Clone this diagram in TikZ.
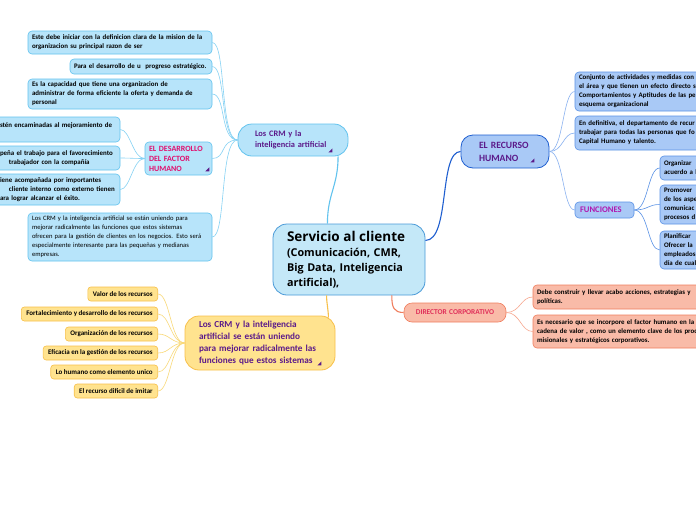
\documentclass[tikz,border=0pt]{standalone}
\usepackage{fontspec}
\setmainfont{Carlito}
\newfontfamily\ctrfont{Open Sans}
\definecolor{celesteF}{HTML}{B7E4FA}
\definecolor{celesteB}{HTML}{62C3EE}
\definecolor{celesteL}{HTML}{86D2F4}
\definecolor{centroF}{HTML}{C4E8F8}
\definecolor{centroB}{HTML}{4A9AD8}
\definecolor{amarF}{HTML}{FFE38F}
\definecolor{amarB}{HTML}{F7C04A}
\definecolor{amarL}{HTML}{F9D978}
\definecolor{azulF}{HTML}{A9C9F6}
\definecolor{azulB}{HTML}{5A92E6}
\definecolor{azulL}{HTML}{8AB2F0}
\definecolor{azulO}{HTML}{1F5FD0}
\definecolor{salmF}{HTML}{F9BBA8}
\definecolor{salmB}{HTML}{F07E5E}
\definecolor{salmL}{HTML}{F7A890}
\definecolor{morado}{HTML}{5B1A8A}
\definecolor{fucsia}{HTML}{E0106E}
\definecolor{violeta}{HTML}{B01AB0}
\definecolor{rojoD}{HTML}{E0305A}

\begin{document}
\begin{tikzpicture}[x=1pt, y=-1pt,
    every node/.style={align=left, inner xsep=4pt, inner ysep=2pt,
      font=\bfseries\fontsize{6.9}{9}\selectfont},
    hojaC/.style={draw=celesteB, fill=celesteF, rounded corners=4pt, line width=0.6pt},
    hojaA/.style={draw=amarB, fill=amarF, rounded corners=3pt, line width=0.6pt,
      anchor=east, minimum height=14pt, inner xsep=5pt, font=\bfseries\fontsize{7}{8}\selectfont},
    hojaZ/.style={draw=azulB, fill=azulF, rounded corners=4pt, line width=0.6pt},
    hojaS/.style={draw=salmB, fill=salmF, rounded corners=4pt, line width=0.6pt},
    ramaC/.style={draw=celesteL, line width=0.6pt},
    ramaA/.style={draw=amarL, line width=0.6pt},
    ramaZ/.style={draw=azulL, line width=0.6pt},
    ramaS/.style={draw=salmL, line width=0.6pt},
    marca/.style={fill=morado}]
  \fill[white] (0,0) rectangle (696,520);
  \useasboundingbox (0,0) rectangle (696,520);
  \clip (0,0) rectangle (696,520);

  % centro
  \node[draw=centroB, fill=centroF, line width=0.8pt, rounded corners=14pt,
    text width=124pt, inner xsep=14pt, minimum height=71pt,
    font=\ctrfont\bfseries\fontsize{10.8}{15}\selectfont] (ctr) at (349,259.5)
    {{\fontsize{13.5}{16}\selectfont Servicio al cliente}\\(Comunicación, CMR,\\Big Data, Inteligencia\\artificial),};

  % rama CRM e IA
  \node[draw=celesteB, fill=celesteF, line width=0.8pt, rounded corners=14pt,
    text width=76pt, inner xsep=17pt, minimum height=32pt, text=morado,
    font=\bfseries\fontsize{8.4}{11}\selectfont] (crm) at (293,140)
    {Los CRM y la\\inteligencia artificial};
  \node[hojaC, text width=176pt, minimum height=23pt] (mision) at (120,42.5)
    {\mbox{Este debe iniciar con la definicion clara de la mision de la}\\organizacion su principal razon de ser};
  \node[hojaC, text width=134pt, minimum height=15pt] (progreso) at (141,66.5)
    {Para el desarrollo de u \ progreso estratégico.};
  \node[hojaC, text width=176pt, minimum height=30pt] (capacidad) at (120,94)
    {Es la capacidad que tiene una organizacion de\\\mbox{administrar de forma eficiente la oferta y demanda de}\\personal};
  \node[hojaC, text width=59pt, minimum height=33pt, text=fucsia,
    font=\bfseries\fontsize{8}{10}\selectfont] (factor) at (178.5,158.5)
    {\mbox{EL DESARROLLO}\\DEL FACTOR\\HUMANO};
  \node[hojaC, text width=176pt, minimum height=48pt,
    font=\fontsize{6.6}{9}\selectfont] (negocios) at (120,237)
    {\mbox{Los CRM y la inteligencia artificial se están uniendo para}\\\mbox{mejorar radicalmente las funciones que estos sistemas}\\\mbox{ofrecen para la gestión de clientes en los negocios. Esto será}\\especialmente interesante para las pequeñas y medianas\\empresas.};
  \node[hojaC, text width=116pt, minimum height=25pt] (mejora) at (58,129.5)
    {\mbox{stén encaminadas al mejoramiento de}\\\mbox{}};
  \node[hojaC, text width=116pt, minimum height=24pt] (trabajo) at (58,158)
    {\mbox{peña el trabajo para el favorecimiento}\\\mbox{\hspace*{9pt}trabajador con la compañía}};
  \node[hojaC, text width=116pt, minimum height=31pt] (exito) at (58,189.5)
    {\mbox{iene acompañada por importantes}\\\mbox{\hspace*{9pt}cliente interno como externo tienen}\\\mbox{ara lograr alcanzar el éxito.}};

  % rama amarilla
  \node[draw=amarB, fill=amarF, line width=0.8pt, rounded corners=14pt,
    text width=122pt, inner xsep=14pt, minimum height=54pt, text=morado,
    font=\bfseries\fontsize{9.2}{12}\selectfont] (unen) at (260,343)
    {Los CRM y la inteligencia\\artificial se están uniendo\\\mbox{para mejorar radicalmente las}\\\mbox{funciones que estos sistemas}};
  \node[hojaA] (valor) at (158,294) {Valor de los recursos};
  \node[hojaA] (fortal) at (158,314) {Fortalecimiento y desarrollo de los recursos};
  \node[hojaA] (organiz) at (158,334) {Organización de los recursos};
  \node[hojaA] (eficacia) at (158,353) {Eficacia en la gestión de los recursos};
  \node[hojaA] (humano) at (158,372) {Lo humano como elemento unico};
  \node[hojaA] (imitar) at (158,391) {El recurso dificil de imitar};

  % rama recurso humano
  \node[draw=azulO, fill=azulF, line width=0.8pt, rounded corners=12pt,
    text width=52pt, inner xsep=18pt, minimum height=33pt, text=morado,
    font=\bfseries\fontsize{9.6}{13}\selectfont] (rh) at (505,151.5)
    {EL RECURSO\\HUMANO};
  \node[hojaZ, text width=137pt, minimum height=39pt] (conjunto) at (647.5,91.5)
    {\mbox{Conjunto de actividades y medidas con}\\\mbox{el área y que tienen un efecto directo s}\\\mbox{Comportamientos y Aptitudes de las pe}\\esquema organizacional};
  \node[hojaZ, text width=137pt, minimum height=34pt] (definitiva) at (647.5,133)
    {\mbox{En definitiva, el departamento de recur}\\\mbox{trabajar para todas las personas que fo}\\Capital Humano y talento.};
  \node[hojaZ, text width=49pt, inner xsep=5pt, minimum height=16pt, text=violeta,
    font=\bfseries\fontsize{8.6}{10}\selectfont] (funciones) at (604.5,210)
    {FUNCIONES};
  \node[hojaZ, text width=52pt, minimum height=24pt] (organizar) at (690,168)
    {Organizar\\acuerdo a l};
  \node[hojaZ, text width=52pt, minimum height=39pt] (promover) at (690,204.5)
    {Promover\\de los aspe\\comunicac\\procesos d};
  \node[hojaZ, text width=52pt, minimum height=38pt] (planificar) at (690,250)
    {Planificar\\Ofrecer la\\empleados\\día de cual};

  % rama director
  \node[hojaS, rounded corners=8pt, align=center, text width=94pt, minimum height=19pt,
    text=rojoD, font=\bfseries\fontsize{7.4}{9}\selectfont] (director) at (455,312.5)
    {\mbox{DIRECTOR CORPORATIVO}};
  \node[hojaS, text width=179pt, minimum height=24pt] (construir) at (626.5,297)
    {\mbox{Debe construir y llevar acabo acciones, estrategias y}\\políticas.};
  \node[hojaS, text width=179pt, minimum height=33pt] (incorpore) at (626.5,331.5)
    {\mbox{Es necesario que se incorpore el factor humano en la}\\\mbox{cadena de valor , como un elemento clave de los proc}\\misionales y estratégicos corporativos.};

  % conectores principales
  \draw[draw=celesteB, line width=1.1pt] (ctr.121) .. controls +(0,-30) and +(0,30) .. (crm.-20);
  \draw[draw=amarB, line width=1.1pt] (ctr.238) .. controls +(0,8) and +(0,-8) .. ([xshift=-7pt,yshift=-2pt]unen.north east);
  \draw[draw=azulO, line width=1.1pt] (ctr.14) .. controls +(25,0) and +(-22,0) .. (rh.west);
  \draw[draw=salmB, line width=1.1pt] (ctr.320) .. controls +(0,12) and +(-10,0) .. (director.west);

  % ramas
  \foreach \h in {mision, progreso, capacidad, factor, negocios}
    \draw[ramaC] (crm.west) .. controls +(-18,0) and +(14,0) .. (\h.east);
  \foreach \h in {mejora, trabajo, exito}
    \draw[ramaC] (factor.west) .. controls +(-12,0) and +(10,0) .. (\h.east);
  \foreach \h in {valor, fortal, organiz, eficacia, humano, imitar}
    \draw[ramaA] (unen.west) .. controls +(-14,0) and +(12,0) .. (\h.east);
  \foreach \h in {conjunto, definitiva, funciones}
    \draw[ramaZ] (rh.east) .. controls +(14,0) and +(-12,0) .. (\h.west);
  \foreach \h in {organizar, promover, planificar}
    \draw[ramaZ, draw=azulB] (funciones.east) .. controls +(14,0) and +(-12,0) .. (\h.west);
  \foreach \h in {construir, incorpore}
    \draw[ramaS] (director.east) .. controls +(14,0) and +(-12,0) .. (\h.west);

  % marcas
  \foreach \n/\dx/\dy in {crm/-20/-4, factor/-7/-4, unen/-18/-5, rh/-19/-6}
    \fill[marca] ([shift={(\dx,\dy)}]\n.south east) -- ++(4,0) -- ++(0,-4) -- cycle;
\end{tikzpicture}
\end{document}
